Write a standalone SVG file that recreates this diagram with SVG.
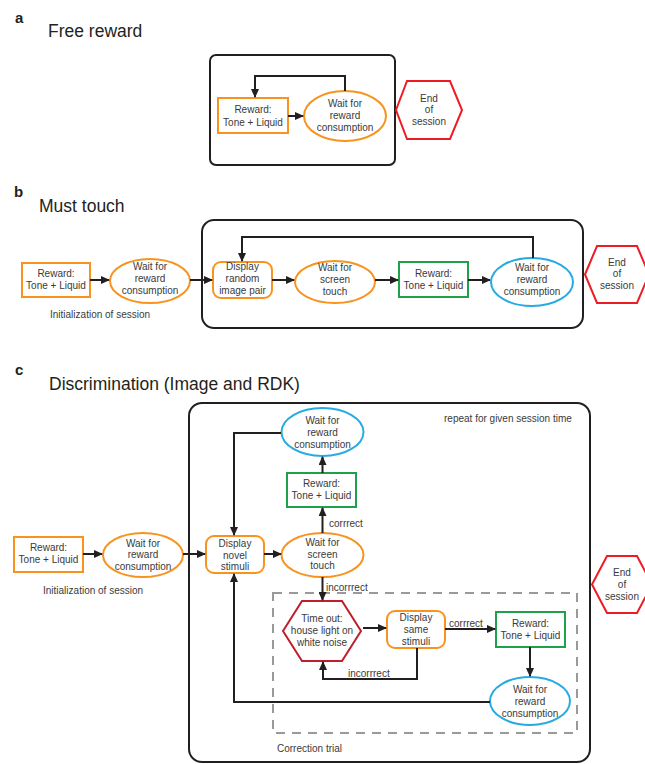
<svg xmlns="http://www.w3.org/2000/svg" width="645" height="764" viewBox="0 0 645 764">
<defs>
<marker id="ah" markerUnits="userSpaceOnUse" markerWidth="9" markerHeight="8" refX="8" refY="4" orient="auto">
<path d="M0,0 L9,4 L0,8 z" fill="#231f20"/>
</marker>
<style>
text{font-family:"Liberation Sans",Arial,sans-serif;fill:#3a3a3a;}
.t{font-size:10px;text-anchor:middle;}
.l{font-size:10px;}
.h{font-size:17.5px;fill:#231f20;}
.k{font-size:15px;font-weight:bold;fill:#231f20;}
.frame{fill:none;stroke:#231f20;stroke-width:2;}
.or{fill:#fff;stroke:#F7931E;stroke-width:2;}
.gr{fill:#fff;stroke:#1FA04A;stroke-width:2;}
.bl{fill:#fff;stroke:#27AAE1;stroke-width:2;}
.rd{fill:#fff;stroke:#ED1C24;stroke-width:2;}
.dr{fill:#fff;stroke:#BE1E2D;stroke-width:2;}
.c{fill:none;stroke:#231f20;stroke-width:2;marker-end:url(#ah);}
.cn{fill:none;stroke:#231f20;stroke-width:2;}
.dash{fill:none;stroke:#999;stroke-width:2;stroke-dasharray:9 7;}
</style>
</defs>

<!-- Panel a -->
<g id="panel-a">
<text class="k" x="15" y="23">a</text>
<text class="h" x="48" y="37">Free reward</text>
<rect class="frame" x="210" y="55" width="185" height="110" rx="6"/>
</g>
<g id="a-reward"><rect class="or" x="218" y="98" width="70" height="35"/>
<text class="t" x="253" y="113">Reward:</text><text class="t" x="253" y="125.5">Tone + Liquid</text></g>
<g id="a-wait"><ellipse class="or" cx="345" cy="116" rx="41" ry="25"/>
<text class="t" x="345" y="106.5">Wait for</text><text class="t" x="345" y="118.5">reward</text><text class="t" x="345" y="130.5">consumption</text></g>
<g id="a-end"><polygon class="rd" points="396,110 407,81 450,81 462,110 450,139 407,139"/>
<text class="t" x="429" y="101.5">End</text><text class="t" x="429" y="113">of</text><text class="t" x="429" y="124.5">session</text></g>

<!-- Panel b -->
<g id="panel-b">
<text class="k" x="14" y="197">b</text>
<text class="h" x="39" y="212">Must touch</text>
<rect class="frame" x="202" y="220" width="381" height="108" rx="12"/>
<text class="l" x="50" y="317.5">Initialization of session</text>
</g>
<g id="b-reward1"><rect class="or" x="22" y="263" width="68" height="34"/>
<text class="t" x="56" y="276.5">Reward:</text><text class="t" x="56" y="288.5">Tone + Liquid</text></g>
<g id="b-wait1"><ellipse class="or" cx="150" cy="281" rx="40" ry="22"/>
<text class="t" x="150" y="270">Wait for</text><text class="t" x="150" y="282">reward</text><text class="t" x="150" y="294">consumption</text></g>
<g id="b-display"><rect class="or" x="213" y="262" width="59" height="36" rx="8"/>
<text class="t" x="242.5" y="270">Display</text><text class="t" x="242.5" y="282">random</text><text class="t" x="242.5" y="294">image pair</text></g>
<g id="b-touch"><ellipse class="or" cx="335" cy="282" rx="40" ry="21"/>
<text class="t" x="335" y="270.5">Wait for</text><text class="t" x="335" y="282.5">screen</text><text class="t" x="335" y="294.5">touch</text></g>
<g id="b-reward2"><rect class="gr" x="399" y="262" width="69" height="35"/>
<text class="t" x="433.5" y="276.5">Reward:</text><text class="t" x="433.5" y="288.5">Tone + Liquid</text></g>
<g id="b-wait2"><ellipse class="bl" cx="532" cy="282" rx="41" ry="24"/>
<text class="t" x="532" y="270.5">Wait for</text><text class="t" x="532" y="282.5">reward</text><text class="t" x="532" y="294.5">consumption</text></g>
<g id="b-end"><polygon class="rd" points="585,274.5 597,246 637,246 649,274.5 637,303 597,303"/>
<text class="t" x="617" y="265.5">End</text><text class="t" x="617" y="277">of</text><text class="t" x="617" y="288.5">session</text></g>

<!-- Panel c -->
<g id="panel-c">
<text class="k" x="15" y="375">c</text>
<text class="h" x="49" y="390">Discrimination (Image and RDK)</text>
<rect class="frame" x="189" y="403" width="401" height="359" rx="13"/>
<text class="l" x="444" y="421.5">repeat for given session time</text>
<text class="l" x="43" y="593.5">Initialization of session</text>
<rect class="dash" x="273" y="593" width="304" height="140"/>
<text class="l" x="277" y="751.5">Correction trial</text>
</g>
<g id="c-reward1"><rect class="or" x="14" y="537" width="69" height="35"/>
<text class="t" x="48.5" y="550.5">Reward:</text><text class="t" x="48.5" y="562.5">Tone + Liquid</text></g>
<g id="c-wait1"><ellipse class="or" cx="143" cy="555" rx="40" ry="22"/>
<text class="t" x="143" y="546.5">Wait for</text><text class="t" x="143" y="558">reward</text><text class="t" x="143" y="569.5">consumption</text></g>
<g id="c-display"><rect class="or" x="206" y="536" width="58" height="37" rx="8"/>
<text class="t" x="235" y="546.5">Display</text><text class="t" x="235" y="558.5">novel</text><text class="t" x="235" y="569.5">stimuli</text></g>
<g id="c-touch"><ellipse class="or" cx="322.5" cy="555" rx="41" ry="22"/>
<text class="t" x="322.5" y="546">Wait for</text><text class="t" x="322.5" y="557.5">screen</text><text class="t" x="322.5" y="569">touch</text></g>
<g id="c-reward2"><rect class="gr" x="287" y="473" width="69" height="34"/>
<text class="t" x="321.5" y="486.5">Reward:</text><text class="t" x="321.5" y="498.5">Tone + Liquid</text></g>
<g id="c-wait2"><ellipse class="bl" cx="322.5" cy="432" rx="41" ry="24"/>
<text class="t" x="322.5" y="423.5">Wait for</text><text class="t" x="322.5" y="435.5">reward</text><text class="t" x="322.5" y="447.5">consumption</text></g>
<g id="c-timeout"><polygon class="dr" points="283,631 302,601 342,601 361,631 342,661 302,661"/>
<text class="t" x="322" y="621.5">Time out:</text><text class="t" x="322" y="633.5">house light on</text><text class="t" x="322" y="645.5">white noise</text></g>
<g id="c-same"><rect class="or" x="387" y="611" width="58" height="37" rx="8"/>
<text class="t" x="416" y="620.5">Display</text><text class="t" x="416" y="632.5">same</text><text class="t" x="416" y="644.5">stimuli</text></g>
<g id="c-reward3"><rect class="gr" x="496" y="612" width="69" height="35"/>
<text class="t" x="530.5" y="626.5">Reward:</text><text class="t" x="530.5" y="639">Tone + Liquid</text></g>
<g id="c-wait3"><ellipse class="bl" cx="530" cy="701" rx="40" ry="24"/>
<text class="t" x="530" y="692.5">Wait for</text><text class="t" x="530" y="705">reward</text><text class="t" x="530" y="716.5">consumption</text></g>
<g id="c-end"><polygon class="rd" points="592,584.5 607,556 637,556 652,584.5 637,613 607,613"/>
<text class="t" x="622" y="575.5">End</text><text class="t" x="622" y="587.5">of</text><text class="t" x="622" y="599.5">session</text></g>

<g id="connectors">
<!-- a -->
<line class="c" x1="288" y1="116" x2="303" y2="116"/>
<path class="c" d="M345,91 V76 H255 V97"/>
<!-- b -->
<line class="c" x1="90" y1="280" x2="109" y2="280"/>
<line class="c" x1="190" y1="280" x2="212" y2="280"/>
<line class="c" x1="272" y1="280" x2="294" y2="280"/>
<line class="c" x1="375" y1="280" x2="398" y2="280"/>
<line class="c" x1="468" y1="280" x2="490" y2="280"/>
<path class="c" d="M533,258 V237 H242 V261"/>
<!-- c -->
<line class="c" x1="83" y1="554" x2="102" y2="554"/>
<line class="c" x1="183" y1="554" x2="205" y2="554"/>
<line class="c" x1="264" y1="554" x2="281" y2="554"/>
<line class="c" x1="322.5" y1="533" x2="322.5" y2="508"/>
<line class="c" x1="322.5" y1="473" x2="322.5" y2="457"/>
<path class="c" d="M281,433 H234 V535"/>
<line class="c" x1="322.5" y1="577" x2="322.5" y2="600"/>
<line class="c" x1="363" y1="628" x2="386" y2="628"/>
<line class="c" x1="445" y1="629" x2="495" y2="629"/>
<line class="c" x1="530" y1="647" x2="530" y2="676"/>
<path class="c" d="M417,648 V679 H323 V662"/>
<path class="c" d="M490,702 H234 V574"/>
<text class="l" x="329" y="526.5">corrrect</text>
<text class="l" x="326" y="590.5">incorrrect</text>
<text class="l" x="449" y="626.5">corrrect</text>
<text class="l" x="348" y="676.5">incorrrect</text>
</g>
</svg>
